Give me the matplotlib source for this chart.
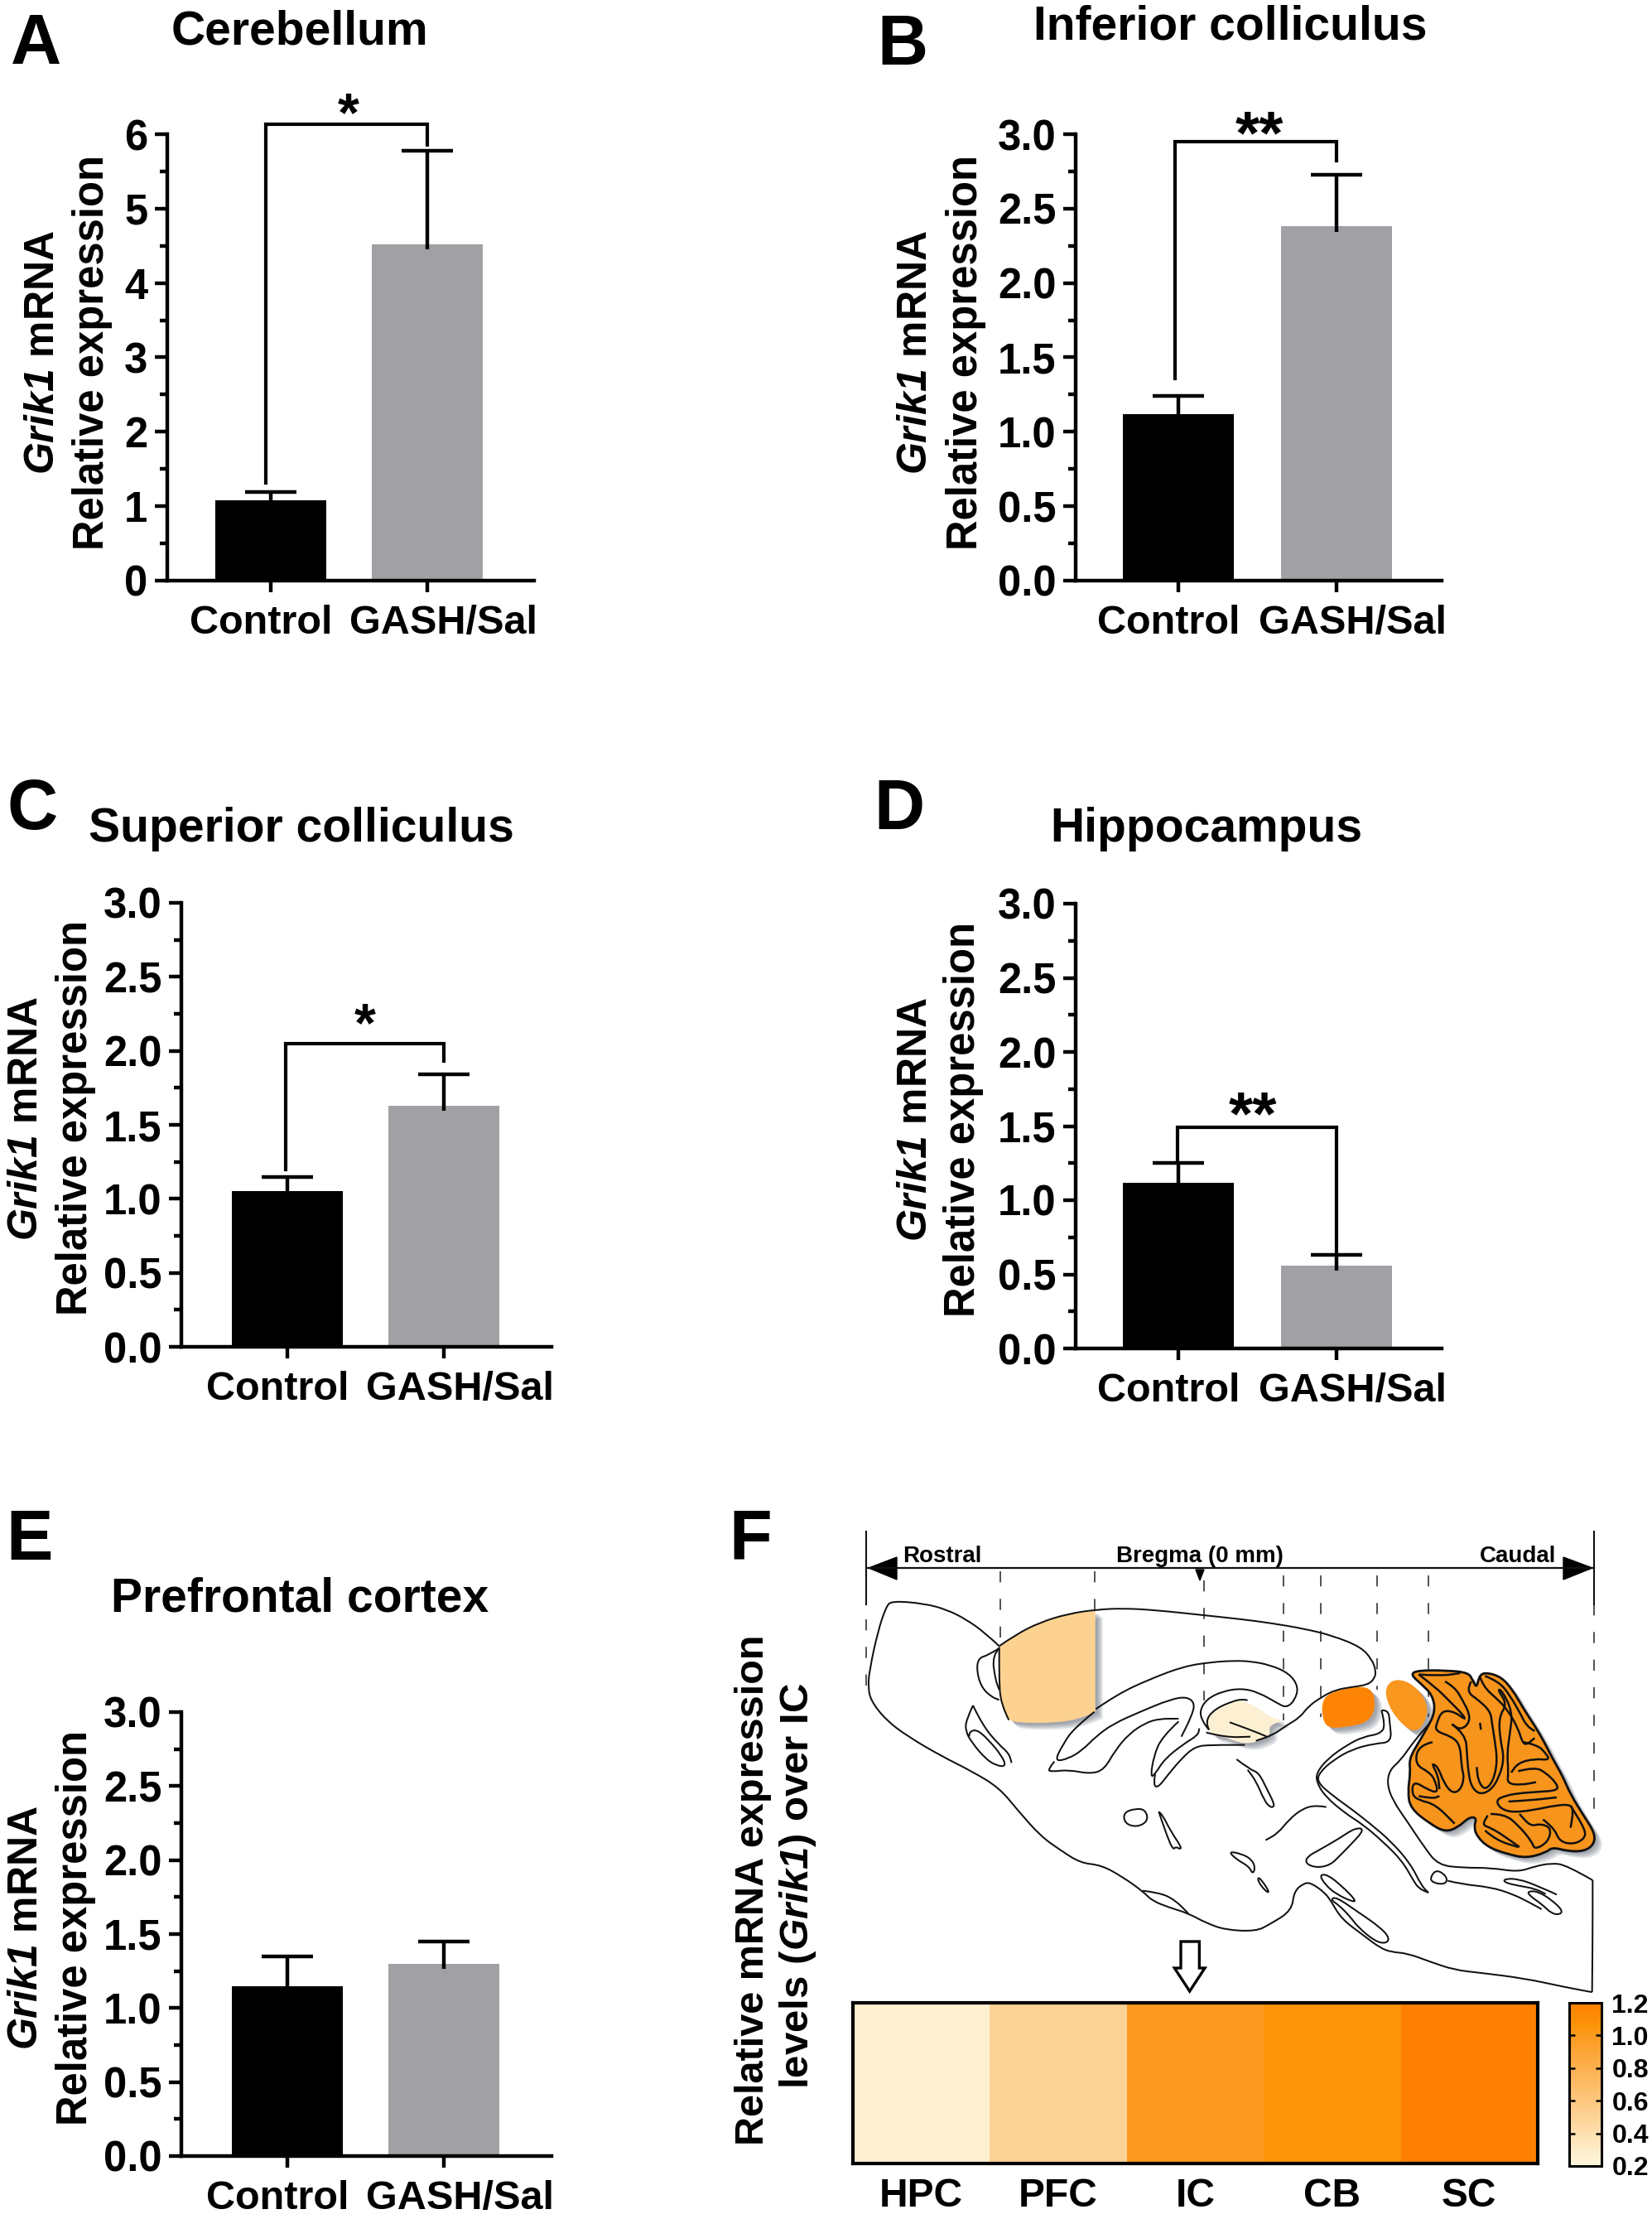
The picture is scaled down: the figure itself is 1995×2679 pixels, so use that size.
import numpy as np
import matplotlib
matplotlib.use("Agg")
import matplotlib.pyplot as plt
from matplotlib.path import Path
from matplotlib.patches import PathPatch, Polygon
from matplotlib.colors import LinearSegmentedColormap
from matplotlib.transforms import ScaledTranslation

plt.rcParams['font.family'] = ['Liberation Sans', 'DejaVu Sans']
plt.rcParams['mathtext.fontset'] = 'custom'
# \mathrm here so the digit in Grik1 stays italic too
plt.rcParams['mathtext.rm'] = 'Liberation Sans:italic:bold'
plt.rcParams['mathtext.it'] = 'Liberation Sans:italic:bold'
plt.rcParams['mathtext.bf'] = 'Liberation Sans:bold'

W, H = 1995, 2679

groups = ['Control', 'GASH/Sal']
titles = ['Cerebellum', 'Inferior colliculus', 'Superior colliculus', 'Hippocampus', 'Prefrontal cortex']
letters = ['A', 'B', 'C', 'D', 'E']
means_a = [1.08, 4.52]
means_b = [1.12, 2.38]
means_c = [1.05, 1.63]
means_d = [1.12, 0.56]
means_e = [1.15, 1.30]
sem_a = [0.11, 1.26]
sem_b = [0.12, 0.35]
sem_c = [0.10, 0.21]
sem_d = [0.13, 0.07]
sem_e = [0.20, 0.15]
ticks_a = [0, 1, 2, 3, 4, 5, 6]
ticks_rest = [0.0, 0.5, 1.0, 1.5, 2.0, 2.5, 3.0]
# bracket: top, left foot, right foot
bracket_a = [6.13, 1.31, 5.86]
bracket_b = [2.95, 1.36, 2.82]
bracket_c = [2.05, 1.20, 1.93]
bracket_d = [1.49, 1.27, 0.65]

regions = ['HPC', 'PFC', 'IC', 'CB', 'SC']
heat_values = [0.27, 0.50, 1.00, 1.06, 1.20]
cbar_ticks = [0.2, 0.4, 0.6, 0.8, 1.0, 1.2]

fig = plt.figure(figsize=(W / 100, H / 100), dpi=100, facecolor='white')


def add_ax(x0, x1, ytop, ybot):
    return fig.add_axes([x0 / W, 1 - ybot / H, (x1 - x0) / W, (ybot - ytop) / H])


# full-figure layer in picture pixels, for labels and the brain drawing
art = fig.add_axes([0, 0, 1, 1], zorder=5)
art.set_xlim(0, W)
art.set_ylim(H, 0)
art.axis('off')
art.patch.set_alpha(0)


def bar_panel(spine_x, c1, c2, xend, ytop, ybot, means, sems, ticks, bracket=None, bx=0.0):
    ax = add_ax(spine_x, xend, ytop, ybot)
    step = c2 - c1
    ax.set_xlim((spine_x - c1) / step, (xend - c1) / step)
    ax.set_ylim(ticks[0], ticks[-1])
    ax.bar([0, 1], means, width=0.705, color=['black', '#a1a0a5'])
    for i in range(2):
        eb = ax.errorbar(i, means[i], yerr=[[ticks[-1] * 0.012], [sems[i]]], color='black', elinewidth=3.2,
                         capsize=22, capthick=3.2)
        eb[1][0].set_visible(False)
    ax.spines[['top', 'right']].set_visible(False)
    ax.spines[['left', 'bottom']].set_linewidth(3.2)
    ax.set_yticks(ticks)
    ax.set_yticks((np.array(ticks[:-1]) + np.array(ticks[1:])) / 2, minor=True)
    ax.tick_params(axis='y', which='major', length=11, width=3.2, labelsize=36.5, pad=6)
    ax.tick_params(axis='y', which='minor', length=6.5, width=3.2)
    if ticks[-1] == 3.0:
        ax.set_yticklabels(['%.1f' % t for t in ticks])
    ax.set_xticks([0, 1])
    ax.set_xticklabels(groups)
    ax.tick_params(axis='x', length=10, width=3.2, labelsize=35, pad=11)
    for lab in ax.get_yticklabels() + ax.get_xticklabels():
        lab.set_fontweight('bold')
    labs = ax.get_xticklabels()
    labs[0].set_transform(labs[0].get_transform() + ScaledTranslation(-12 / 100, 0, fig.dpi_scale_trans))
    labs[1].set_transform(labs[1].get_transform() + ScaledTranslation(20 / 100, 0, fig.dpi_scale_trans))
    if bracket:
        ax.plot([bx, bx, 1, 1], [bracket[1], bracket[0], bracket[0], bracket[2]],
                color='black', lw=3, clip_on=False, solid_joinstyle='miter')
    return ax


bar_panel(202, 327, 516, 645, 162, 701, means_a, sem_a, ticks_a, bracket_a, -0.03)
bar_panel(1299, 1423, 1614, 1741, 162, 701, means_b, sem_b, ticks_rest, bracket_b, -0.02)
bar_panel(219, 347, 536, 666, 1090, 1626, means_c, sem_c, ticks_rest, bracket_c, -0.01)
bar_panel(1299, 1423, 1614, 1741, 1091, 1628, means_d, sem_d, ticks_rest, bracket_d, -0.005)
bar_panel(219, 347, 536, 666, 2067, 2603, means_e, sem_e, ticks_rest)

title_xy = [(362, 39), (1486, 33), (364, 1001), (1457, 1001), (362, 1930)]
letter_xy = [(44, 55), (1090, 56), (39, 979), (1086, 979), (36, 1861)]
label_x = [(65, 125), (1119, 1180), (45, 105), (1119, 1177), (45, 105)]
label_y = [425, 425, 1350, 1351, 2327]
for i in range(5):
    art.text(*title_xy[i], titles[i], fontsize=41, fontweight='bold', ha='center', va='center')
    art.text(*letter_xy[i], letters[i], fontsize=61, fontweight='bold', ha='center', va='center')
    art.text(label_x[i][0], label_y[i], r'$\mathrm{Grik1}$ mRNA', fontsize=36, fontweight='bold',
             rotation=90, rotation_mode='anchor', ha='center', va='baseline')
    art.text(label_x[i][1], label_y[i], 'Relative expression', fontsize=36.5, fontweight='bold',
             rotation=90, rotation_mode='anchor', ha='center', va='baseline')
art.text(906, 1860, 'F', fontsize=61, fontweight='bold', ha='center', va='center')


def stars(x, y, s, size):
    art.text(x, y + 0.57 * size / 0.72, s, fontsize=size, fontweight='bold', ha='center', va='baseline')


stars(421, 120, '*', 48)
stars(1521, 143, '**', 54)
stars(441, 1219, '*', 48)
stars(1513, 1327, '**', 54)

# heat strip
cmap = LinearSegmentedColormap.from_list('grik', [(0.0, '#fff6e0'), (0.07, '#fef0d0'), (0.30, '#fdd296'),
                                                  (0.80, '#fc9a20'), (0.86, '#fd9408'), (1.0, '#fe8002')])
hax = add_ax(1030, 1857, 2418, 2612)
mesh = hax.pcolormesh(np.array([heat_values]), cmap=cmap, vmin=0.2, vmax=1.2)
hax.set_yticks([])
hax.set_xticks(np.arange(5) + 0.5)
hax.set_xticklabels(regions, fontsize=34.5, fontweight='bold')
hax.tick_params(axis='x', length=0, pad=12)
for s in hax.spines.values():
    s.set_linewidth(3)

cax = add_ax(1895, 1934, 2418, 2615)
cb = fig.colorbar(mesh, cax=cax, ticks=cbar_ticks)
cb.outline.set_linewidth(2.2)
cax.tick_params(axis='y', direction='in', left=True, right=True, length=5, width=1.8, labelsize=23, pad=9)
for lab in cax.get_yticklabels():
    lab.set_fontweight('bold')

art.text(922, 2282, 'Relative mRNA expression', fontsize=35, fontweight='bold', rotation=90,
         rotation_mode='anchor', ha='center', va='baseline')
art.text(976, 2277, r'levels ($\mathrm{Grik1}$) over IC', fontsize=35.5, fontweight='bold', rotation=90,
         rotation_mode='anchor', ha='center', va='baseline')

# rostro-caudal scale
art.plot([1046, 1925], [1893, 1893], color='#111111', lw=1.6)
art.plot([1046, 1046], [1849, 1937], color='#111111', lw=1.5)
art.plot([1925, 1925], [1849, 1937], color='#111111', lw=1.5)
art.add_patch(Polygon([(1049, 1893), (1083, 1880), (1083, 1907)], color='black'))
art.add_patch(Polygon([(1923, 1893), (1888, 1880), (1888, 1907)], color='black'))
art.add_patch(Polygon([(1444, 1895), (1454, 1895), (1449, 1908)], color='black'))
art.text(1090, 1886, 'Rostral', fontsize=20, fontweight='bold', va='baseline')
art.text(1348, 1886, 'Bregma (0 mm)', fontsize=20, fontweight='bold', va='baseline')
art.text(1787, 1886, 'Caudal', fontsize=20, fontweight='bold', va='baseline')

dash_lines = [(1046, 1955, 2035), (1208, 1897, 1977), (1322, 1897, 1945), (1454, 1908, 2053), (1550, 1902, 2077),
              (1595, 1902, 2073), (1663, 1902, 2040), (1725, 1902, 2073), (1925, 1937, 2198)]
for x, y0, y1 in dash_lines:
    art.plot([x, x], [y0, y1], color='#333333', lw=1.2, dashes=(8, 12), zorder=1)


def c1(p):
    return [(1030 + a / 3, 1840 + b / 3) for a, b in p]


def c2(p):
    return [(1500 + a / 3, 1840 + b / 3) for a, b in p]


def c3(p):
    return [(1200 + a / 3, 2130 + b / 3) for a, b in p]


def c4(p):
    return [(1600 + a / 3, 2130 + b / 3) for a, b in p]


def smooth(pts, closed=False):
    pts = np.array(pts, dtype=float)
    if closed:
        start = (pts[-1] + pts[0]) / 2
        verts, codes = [start], [Path.MOVETO]
        for i in range(len(pts)):
            verts += [pts[i], (pts[i] + pts[(i + 1) % len(pts)]) / 2]
            codes += [Path.CURVE3, Path.CURVE3]
    else:
        verts, codes = [pts[0]], [Path.MOVETO]
        for i in range(1, len(pts) - 1):
            verts += [pts[i], (pts[i] + pts[i + 1]) / 2]
            codes += [Path.CURVE3, Path.CURVE3]
        verts.append(pts[-1])
        codes.append(Path.LINETO)
    return Path(verts, codes)


def outline(pts, closed=False, lw=1.45):
    art.add_patch(PathPatch(smooth(pts, closed), fc='none', ec='#111111', lw=lw, zorder=4))


def blob(pts, color, lw=0, z=3):
    for k in (9, 7, 5, 3):
        q = [(a + k, b + k * 0.9) for a, b in pts]
        art.add_patch(PathPatch(smooth(q, True), fc='#4a5260', ec='none', alpha=0.16, zorder=2))
    art.add_patch(PathPatch(smooth(pts, True), fc=color, ec='#111111' if lw else 'none', lw=lw, zorder=z))


# coloured regions
pfc = c1([(530, 445), (590, 400), (680, 355), (780, 325), (878, 315), (878, 315), (878, 680), (878, 680), (820, 705),
          (740, 720), (590, 720), (560, 705), (535, 650), (530, 560), (530, 445)])
blob(pfc, '#fdd290')
hipp = c1([(1280, 710), (1310, 670), (1380, 640)]) + c2([(0, 640), (50, 660), (110, 705), (155, 710), (95, 730),
                                                         (105, 765), (50, 790), (10, 795), (-30, 785)]) + c1([(1350, 773), (1290, 760)])
blob(hipp, '#fdf0d2')
outline(c1([(1290, 745), (1275, 715), (1310, 670), (1380, 640)]) + c2([(0, 635), (20, 638)]))
outline(c1([(1280, 755), (1350, 773), (1440, 770)]))
ic_lobe = c2([(290, 640), (320, 610), (400, 590), (455, 590), (480, 620), (480, 680), (450, 720), (380, 735), (310, 740), (290, 700)])
blob(ic_lobe, '#fe8406')
sc_lobe = c2([(515, 605), (540, 565), (590, 565), (640, 600), (670, 650), (670, 700), (640, 750), (600, 745), (540, 680)])
blob(sc_lobe, '#f9971f')
cereb = c2([(610, 545), (635, 530), (740, 530), (820, 538), (835, 565), (850, 595), (860, 545), (890, 538), (940, 555),
            (980, 600), (1020, 670), (1060, 730), (1095, 790), (1125, 850), (1160, 910), (1190, 980), (1240, 1060),
            (1278, 1120), (1275, 1160), (1240, 1185), (1180, 1185), (1125, 1170), (1100, 1190), (1030, 1210), (960, 1195),
            (890, 1170), (850, 1130), (840, 1095), (850, 1065), (825, 1060), (780, 1100), (735, 1115), (680, 1085),
            (610, 1030), (600, 970), (610, 900), (605, 850), (640, 790), (670, 740), (700, 680), (690, 620), (650, 580)])
blob(cereb, '#f7941c', lw=2)

folia = [
    [(735, 570), (770, 590), (800, 640), (825, 690), (820, 725), (790, 745), (760, 725)],
    [(640, 545), (700, 590), (750, 640), (800, 690), (810, 710), (770, 680), (725, 675), (705, 720), (700, 750), (760, 770),
     (790, 800), (795, 880), (805, 920), (790, 965), (760, 975), (730, 935), (710, 880), (685, 865), (710, 910), (715, 960)],
    [(640, 545), (720, 550), (790, 540)],
    [(830, 570), (810, 605), (860, 640), (900, 680), (905, 720), (915, 780), (925, 860), (910, 930), (880, 965), (855, 930), (850, 880)],
    [(760, 725), (810, 760), (815, 840), (820, 900), (830, 950), (860, 980), (900, 965), (930, 920), (950, 850), (935, 780),
     (930, 700), (960, 650), (925, 600), (940, 600), (980, 680), (970, 760), (960, 830), (965, 900), (960, 940), (1010, 945), (1065, 935)],
    [(860, 550), (875, 590), (920, 630), (960, 670), (1000, 740), (1015, 790), (1030, 800), (1060, 775)],
    [(880, 550), (930, 570), (970, 620), (1010, 690), (1030, 730), (1060, 750)],
    [(1020, 790), (1070, 800), (1100, 830), (1115, 855), (1060, 850), (1000, 865), (975, 900)],
    [(1000, 895), (1060, 880), (1100, 900), (1140, 940), (1145, 965), (1070, 970), (1000, 975), (950, 985), (920, 1000), (935, 1030),
     (980, 1045), (1060, 1035), (1130, 1020), (1190, 1015), (1200, 1040), (1190, 1100)],
    [(965, 1005), (1050, 1000), (1140, 990)],
    [(900, 1050), (950, 1050), (1000, 1090), (1050, 1150), (1060, 1180), (1110, 1150), (1120, 1100), (1080, 1085), (1045, 1095), (1005, 1050)],
    [(1090, 1070), (1130, 1100), (1150, 1150), (1200, 1160), (1240, 1140), (1245, 1110), (1190, 1020)],
    [(1005, 1170), (950, 1130), (900, 1100), (870, 1090), (890, 1055)],
    [(880, 1110), (920, 1145), (1000, 1170)],
    [(690, 790), (640, 800), (625, 870), (680, 900), (700, 930), (710, 975), (670, 960), (620, 930), (615, 980), (640, 1000), (700, 1015), (770, 1085)],
    [(640, 985), (690, 995), (715, 985)],
    [(862, 720), (865, 745)],
]
for f in folia:
    outline(c2(f), lw=1.8)

# brain outlines
ventral = (c1([(530, 442), (480, 395), (410, 345), (340, 310), (260, 288), (140, 278), (120, 300), (90, 390), (60, 530), (55, 590),
               (65, 640), (120, 710), (200, 770), (320, 840), (430, 895), (530, 955), (600, 1040), (680, 1130), (750, 1180),
               (825, 1228), (900, 1235), (980, 1280), (1050, 1330)])
           + c3([(575, 495), (640, 520), (705, 540), (770, 575), (840, 600), (950, 605), (1000, 580), (1080, 530), (1088, 460),
                 (1125, 430), (1150, 430), (1200, 465), (1225, 500), (1260, 560), (1340, 620), (1400, 665)])
           + c4([(240, 680), (300, 685), (380, 715), (470, 745), (560, 755), (720, 775), (860, 805), (965, 825), (968, 825)]))
outline(ventral)
outline(c4([(968, 825), (970, 620), (970, 420)]))
outline(c2([(1270, 1290), (1175, 1235), (1120, 1228), (1060, 1240), (1000, 1260), (900, 1245), (800, 1245), (710, 1235), (660, 1170),
            (600, 1080), (545, 1000), (525, 940), (535, 890), (575, 855), (620, 790), (680, 720)]))
outline(c2([(505, 675), (530, 672), (535, 720), (542, 790), (480, 795), (400, 815), (330, 855), (280, 900), (272, 935), (330, 985),
            (400, 1035), (470, 1090), (540, 1150), (610, 1230), (650, 1310), (675, 1335)]))
outline(c2([(505, 675), (520, 730), (500, 760), (440, 770), (380, 800), (310, 850), (270, 900), (270, 935), (300, 985), (370, 1045),
            (440, 1090), (510, 1150), (580, 1220), (620, 1290), (640, 1320), (675, 1335)]))
outline(c1([(530, 442), (590, 400), (680, 355), (780, 325), (880, 310), (980, 305), (1100, 312), (1270, 330)])
        + c2([(0, 345), (100, 358), (230, 380), (330, 405), (430, 445), (470, 490), (485, 530), (480, 560), (455, 582), (400, 590),
              (340, 600), (290, 625), (240, 660), (210, 700), (160, 730), (110, 765), (50, 785)]))
outline(c1([(565, 710), (535, 650), (530, 560), (530, 445)]))
outline(c1([(875, 680), (800, 740), (760, 800), (730, 860), (780, 850), (830, 820), (880, 770), (940, 725), (1040, 680), (1150, 635),
            (1210, 625), (1240, 650), (1225, 700), (1190, 770)]))
outline(c1([(880, 670), (960, 615), (1080, 560), (1200, 515), (1300, 500)])
        + c2([(-30, 495), (30, 497), (100, 510), (170, 540), (205, 590), (190, 640), (160, 665), (130, 650), (60, 610), (0, 595)])
        + c1([(1340, 605), (1280, 635), (1255, 680), (1270, 720), (1290, 745)]))
outline(c1([(730, 860), (705, 890), (720, 897), (780, 890), (860, 905), (910, 890), (950, 820), (1000, 760), (1060, 720), (1110, 705), (1180, 705)]))
outline(c1([(1180, 715), (1120, 770), (1090, 840), (1078, 918), (1095, 905), (1130, 850), (1200, 795), (1250, 765), (1255, 740)]))
outline(c1([(1095, 905), (1088, 945), (1105, 955), (1140, 910), (1190, 850), (1240, 805), (1300, 800), (1420, 800)]))
outline(c1([(1365, 718), (1440, 745), (1500, 770)]))
outline(c1([(435, 657), (410, 710), (408, 750), (430, 790), (480, 850), (520, 875), (555, 878), (540, 840), (490, 780), (450, 745), (425, 750), (420, 770)]))
outline(c1([(435, 657), (470, 730), (530, 800), (565, 830), (575, 865)]))
outline(c1([(530, 450), (490, 475), (455, 485), (448, 530), (465, 590), (500, 625), (530, 637)]))
outline(c1([(530, 450), (505, 475), (515, 560), (530, 600)]))
outline(c1([(1025, 1030), (1060, 1035), (1070, 1075), (1030, 1098), (985, 1085), (980, 1045)]), closed=True)
outline(c1([(1108, 1042), (1120, 1050), (1150, 1110), (1190, 1170), (1185, 1178), (1170, 1168), (1160, 1180), (1140, 1135), (1108, 1042)]))
outline(c1([(1390, 852), (1440, 890)]) + c2([(60, 900), (90, 960), (115, 1010), (115, 1025), (100, 1025), (80, 1000), (50, 930), (20, 890)]))
outline(c2([(305, 1025), (270, 1018), (220, 1030), (170, 1070), (130, 1120), (85, 1145)]))
outline(c2([(445, 1105), (410, 1100), (350, 1140), (280, 1180), (235, 1205), (230, 1230), (270, 1245), (320, 1235), (355, 1200), (390, 1165)]), closed=True)
outline(c3([(850, 315), (900, 325), (935, 345), (948, 375), (938, 398), (925, 370), (880, 345)]), closed=True)
outline(c3([(958, 408), (975, 425), (1000, 465), (985, 460), (958, 425)]), closed=True)
outline(c3([(540, 458), (600, 465), (655, 490), (705, 540)]))
outline(c3([(1180, 400), (1210, 400), (1260, 440), (1310, 490), (1305, 500), (1240, 470), (1200, 435)]), closed=True)
outline(c3([(1220, 490), (1240, 480), (1320, 535), (1400, 590), (1435, 630), (1420, 650), (1380, 640), (1320, 590), (1290, 550), (1250, 510)]), closed=True)
outline(c4([(380, 415), (400, 383), (430, 395), (445, 420), (430, 435), (395, 430)]), closed=True)
outline(c4([(445, 422), (500, 435), (600, 445), (680, 470), (740, 500), (785, 525)]))
outline(c4([(840, 472), (770, 440), (700, 415), (650, 415), (650, 428), (700, 440), (760, 450), (800, 470)]))
outline(c4([(735, 460), (770, 460), (820, 490), (862, 530), (850, 545), (820, 540), (790, 510), (740, 475)]), closed=True)

# arrow down to the strip
art.add_patch(Polygon(c3([(678, 642), (745, 642), (745, 738), (765, 738), (710, 822), (655, 738), (678, 738)]),
                      fc='white', ec='black', lw=2.4, joinstyle='miter'))

fig.savefig('out.png', dpi=100, facecolor='white')
